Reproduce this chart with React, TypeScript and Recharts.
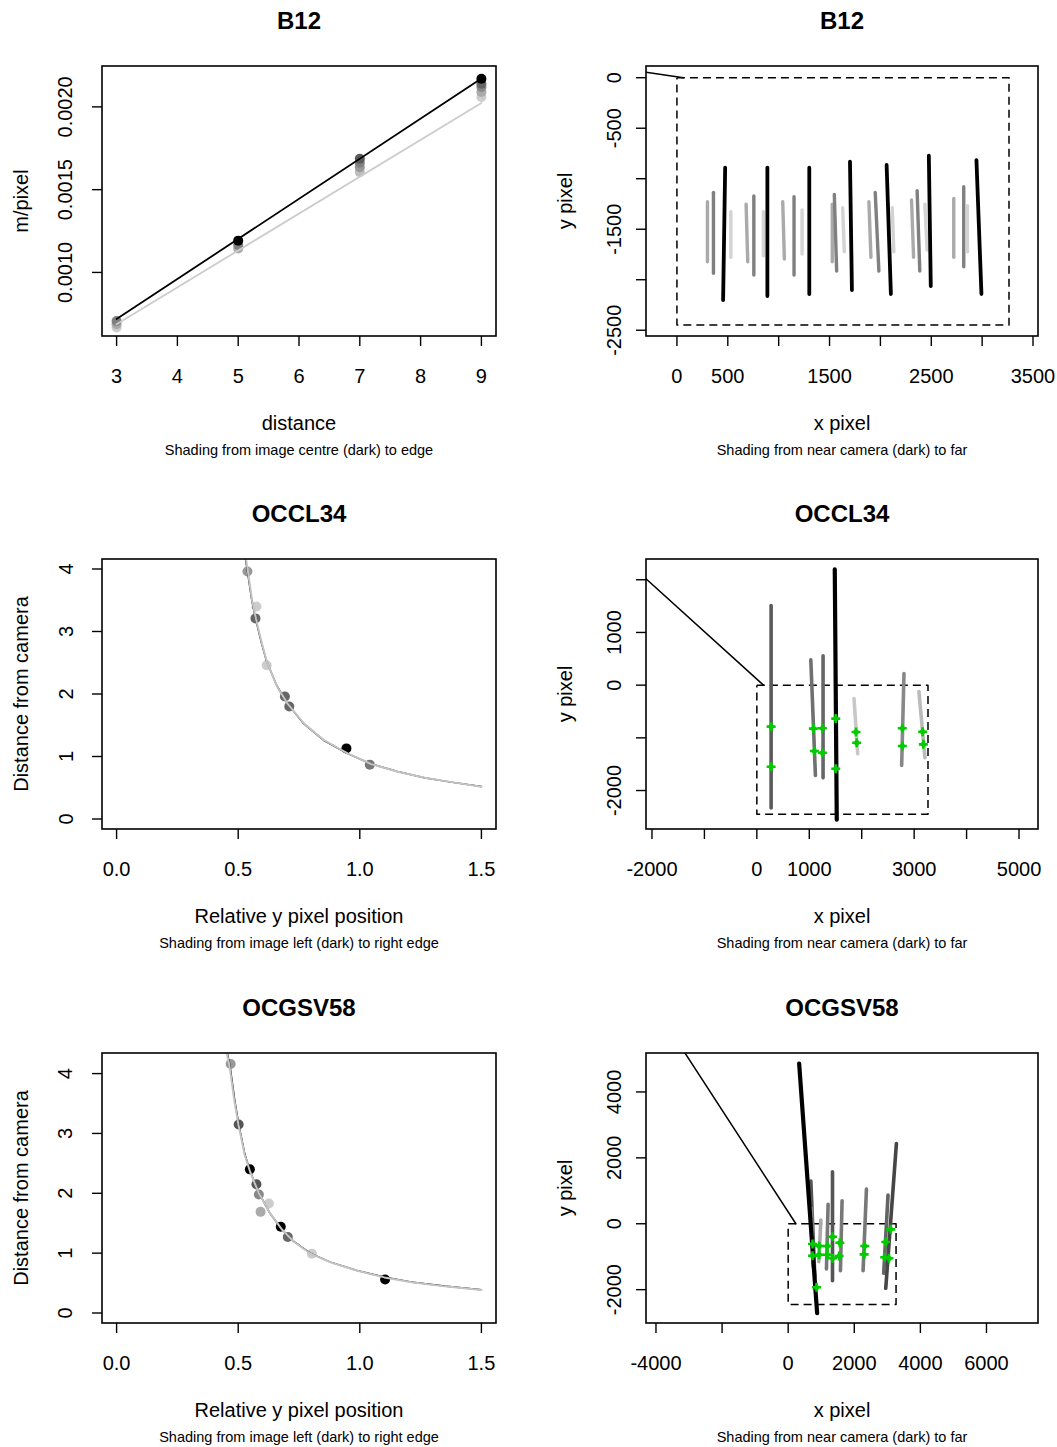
import React from 'react';
import { ScatterChart, Scatter, XAxis, YAxis } from 'recharts';

const FONT = '"Liberation Sans", Arial, Helvetica, sans-serif';

// ---------- B12 (left): m/pixel vs distance ----------
const b12Points = [
  [3, 0.000667, 204], [3, 0.000687, 170], [3, 0.000707, 128],
  [5, 0.001145, 170], [5, 0.001166, 128], [5, 0.001192, 0],
  [7, 0.001606, 190], [7, 0.001636, 153], [7, 0.001663, 128], [7, 0.001687, 90],
  [9, 0.00206, 204], [9, 0.00209, 170], [9, 0.00212, 136], [9, 0.00214, 102], [9, 0.00217, 0],
];
const b12FitCentre = [[3, 0.000718], [9, 0.002172]];
const b12FitEdge = [[3, 0.000687], [9, 0.002024]];

// ---------- B12 (right): image plane ----------
const imgW = 3264;
const imgH = 2448;
const b12Camera = [[-304, 53], [65, 0]];
const b12Segs = [
  [300, -1228, 300, -1822, 170], [359, -1135, 359, -1937, 128], [474, -891, 454, -2201, 0], [530, -1327, 530, -1778, 211],
  [680, -1251, 696, -1822, 170], [756, -1171, 756, -1953, 128], [850, -1327, 850, -1762, 211], [889, -891, 889, -2161, 0],
  [1040, -1228, 1056, -1795, 170], [1151, -1178, 1151, -1953, 128], [1230, -1310, 1230, -1746, 211], [1301, -891, 1301, -2141, 0],
  [1527, -1251, 1527, -1822, 170], [1547, -1155, 1570, -1914, 128], [1629, -1287, 1645, -1723, 211], [1701, -832, 1720, -2102, 0],
  [1887, -1228, 1907, -1778, 170], [1949, -1135, 1985, -1914, 128], [2116, -1287, 2132, -1723, 211], [2061, -864, 2103, -2141, 0],
  [2306, -1211, 2326, -1778, 170], [2361, -1119, 2387, -1914, 128], [2437, -1251, 2459, -1706, 211], [2476, -772, 2495, -2062, 0],
  [2721, -1195, 2721, -1778, 170], [2819, -1079, 2819, -1871, 128], [2856, -1267, 2856, -1723, 211], [2944, -815, 2993, -2141, 0],
];

// ---------- OCCL34 (left) ----------
const occPoints = [
  [0.538, 3.96, 153], [0.575, 3.40, 204], [0.571, 3.21, 102], [0.617, 2.46, 204],
  [0.692, 1.96, 102], [0.710, 1.80, 102], [0.945, 1.13, 0], [1.041, 0.87, 119],
];
const occCurveDark = [
  [0.530, 4.16], [0.538, 3.96], [0.555, 3.52], [0.571, 3.21], [0.596, 2.81], [0.617, 2.52], [0.658, 2.14],
  [0.700, 1.86], [0.768, 1.53], [0.851, 1.26], [0.948, 1.05], [1.044, 0.885], [1.155, 0.76], [1.265, 0.66],
  [1.375, 0.59], [1.5, 0.52],
];
const occCurveLight = [
  [0.532, 4.16], [0.540, 3.96], [0.557, 3.50], [0.573, 3.20], [0.598, 2.80], [0.619, 2.50], [0.660, 2.12],
  [0.702, 1.85], [0.770, 1.53], [0.853, 1.26], [0.950, 1.05], [1.046, 0.88], [1.157, 0.755], [1.267, 0.66],
  [1.377, 0.59], [1.5, 0.515],
];

// ---------- OCCL34 (right) ----------
const occCamera = [[-2114, 2019], [126, 0]];
const occSegs = [
  [272, 1511, 272, -2330, 90], [1029, 482, 1117, -1714, 112], [1263, 558, 1263, -1759, 102],
  [1853, -254, 1924, -1302, 200], [2806, 222, 2762, -1524, 136], [3091, -121, 3206, -1378, 187],
  [1486, 2197, 1524, -2552, 0],
];
const occMarks = [
  [272, -788], [272, -1549], [1078, -825], [1097, -1251], [1250, -819], [1250, -1283], [1505, -635],
  [1505, -1587], [1891, -889], [1904, -1092], [2774, -819], [2774, -1156], [3162, -883], [3175, -1124],
];

// ---------- OCGSV58 (left) ----------
const ocgPoints = [
  [0.469, 4.16, 153], [0.502, 3.15, 85], [0.548, 2.40, 0], [0.575, 2.15, 85], [0.585, 1.98, 136],
  [0.626, 1.83, 204], [0.592, 1.69, 170], [0.675, 1.44, 0], [0.704, 1.27, 102], [0.803, 0.99, 204], [1.104, 0.56, 0],
];
const ocgCurveDark = [
  [0.455, 4.344], [0.466, 4.14], [0.486, 3.55], [0.502, 3.16], [0.527, 2.66], [0.548, 2.38], [0.582, 2.03],
  [0.630, 1.67], [0.679, 1.40], [0.727, 1.20], [0.796, 1.00], [0.879, 0.85], [0.989, 0.71], [1.099, 0.60],
  [1.210, 0.52], [1.348, 0.45], [1.5, 0.39],
];
const ocgCurveLight = [
  [0.453, 4.344], [0.464, 4.14], [0.484, 3.55], [0.501, 3.15], [0.527, 2.64], [0.549, 2.36], [0.584, 2.01],
  [0.632, 1.66], [0.681, 1.39], [0.729, 1.19], [0.798, 0.99], [0.881, 0.845], [0.991, 0.705], [1.101, 0.595],
  [1.212, 0.515], [1.35, 0.445], [1.5, 0.385],
];

// ---------- OCGSV58 (right) ----------
const ocgCamera = [[-3142, 5212], [233, 0]];
const ocgSegs = [
  [686, 1294, 806, -1606, 85], [706, 467, 757, -1303, 136], [988, 112, 927, -1152, 170], [1208, 588, 1158, -1373, 120],
  [1341, 1576, 1341, -1727, 85], [1631, 697, 1581, -1424, 120], [2368, 1052, 2267, -1424, 120],
  [3021, 870, 2890, -1503, 100], [3275, 2436, 2952, -1958, 70], [332, 4860, 876, -2715, 0],
];
const ocgMarks = [
  [737, -615], [737, -970], [937, -676], [937, -939], [1190, -676], [1190, -939], [1341, -394], [1341, -1048],
  [1562, -576], [1541, -979], [2317, -676], [2297, -929], [2952, -555], [2921, -1018], [3051, -1048], [3103, -170], [858, -1927],
];

// ---------- ticks ----------
const b12DistTicks = [3, 4, 5, 6, 7, 8, 9];
const b12ScaleTicks = [0.001, 0.0015, 0.002];
const b12XPixTicks = [0, 500, 1000, 1500, 2000, 2500, 3000, 3500];
const b12XPixShown = [0, 500, 1500, 2500, 3500];
const b12YPixTicks = [0, -500, -1000, -1500, -2000, -2500];
const b12YPixShown = [0, -500, -1500, -2500];
const relTicks = [0, 0.5, 1, 1.5];
const distTicks = [0, 1, 2, 3, 4];
const occXPixTicks = [-2000, -1000, 0, 1000, 2000, 3000, 4000, 5000];
const occXPixShown = [-2000, 0, 1000, 3000, 5000];
const occYPixTicks = [-2000, -1000, 0, 1000, 2000];
const occYPixShown = [-2000, 0, 1000];
const ocgXPixTicks = [-4000, -2000, 0, 2000, 4000, 6000];
const ocgXPixShown = [-4000, 0, 2000, 4000, 6000];
const ocgYPixTicks = [-2000, 0, 2000, 4000];

// ---------- helpers ----------
const xy = (arr: number[][]) => arr.map((p) => ({ x: p[0], y: p[1] }));
const grey = (g: number) => `rgb(${g},${g},${g})`;
const Empty = () => <g />;
const frame = [[0, 0], [imgW, 0], [imgW, -imgH], [0, -imgH], [0, 0]];

const dotShape = (color: string) => (p: any) => <circle cx={p.cx} cy={p.cy} r={5} fill={color} />;
const markShape = (p: any) => (
  <g>
    <path d={`M${p.cx - 4.5},${p.cy}H${p.cx + 4.5}M${p.cx},${p.cy - 4.5}V${p.cy + 4.5}`} stroke="#00cc00" strokeWidth={2.6} />
    <circle cx={p.cx} cy={p.cy} r={2.6} fill="#00cc00" />
  </g>
);

function lineSeries(key: string, pts: number[][], stroke: string, width: number, dash?: string) {
  return (
    <Scatter
      key={key}
      data={xy(pts)}
      line={{ stroke, strokeWidth: width, strokeDasharray: dash, strokeLinecap: dash ? 'butt' : 'round', strokeLinejoin: 'round', fill: 'none' }}
      lineType="joint"
      shape={Empty}
      isAnimationActive={false}
      legendType="none"
    />
  );
}

function segSeries(prefix: string, segs: number[][], width: number, blackWidth: number) {
  return segs.map((s, i) =>
    lineSeries(prefix + i, [[s[0], s[1]], [s[2], s[3]]], grey(s[4]), s[4] === 0 ? blackWidth : width)
  );
}

function pointSeries(prefix: string, pts: number[][]) {
  return pts.map((p, i) => (
    <Scatter
      key={prefix + i}
      data={[{ x: p[0], y: p[1] }]}
      shape={dotShape(grey(p[2]))}
      isAnimationActive={false}
      legendType="none"
    />
  ));
}

function markSeries(key: string, pts: number[][]) {
  return <Scatter key={key} data={xy(pts)} shape={markShape} isAnimationActive={false} legendType="none" />;
}

type PanelProps = {
  L: number; T: number; R: number; B: number;
  xDomain: [number, number]; yDomain: [number, number];
  xTicks: number[]; yTicks: number[]; xShow: number[]; yShow: number[];
  xFmt: (v: number) => string; yFmt: (v: number) => string;
  yOff: number;
  children: React.ReactNode;
};

function Panel({ L, T, R, B, xDomain, yDomain, xTicks, yTicks, xShow, yShow, xFmt, yFmt, yOff, children }: PanelProps) {
  const W = R - L;
  const H = B - T;
  const yx = 70 - yOff;
  return (
    <div style={{ position: 'absolute', left: L - 70, top: T - 10 }}>
      <ScatterChart width={W + 110} height={H + 80} margin={{ top: 10, right: 40, bottom: 10, left: 10 }}>
        <XAxis
          type="number" dataKey="x" domain={xDomain} ticks={xTicks} interval={0} allowDataOverflow
          axisLine={false} tickLine={{ stroke: '#000', strokeWidth: 1.4 }} tickSize={10} height={60}
          tick={(p: any) => {
            const v = p.payload.value;
            if (!xShow.includes(v)) return <g />;
            return (
              <text x={p.x} y={H + 10 + 47} textAnchor="middle" fontFamily={FONT} fontSize={20} fill="#000">
                {xFmt(v)}
              </text>
            );
          }}
        />
        <YAxis
          type="number" dataKey="y" domain={yDomain} ticks={yTicks} interval={0} allowDataOverflow
          axisLine={false} tickLine={{ stroke: '#000', strokeWidth: 1.4 }} tickSize={10} width={60}
          tick={(p: any) => {
            const v = p.payload.value;
            if (!yShow.includes(v)) return <g />;
            return (
              <text x={yx} y={p.y} transform={`rotate(-90 ${yx} ${p.y})`} textAnchor="middle" fontFamily={FONT} fontSize={20} fill="#000">
                {yFmt(v)}
              </text>
            );
          }}
        />
        {children}
      </ScatterChart>
    </div>
  );
}

const LC = { L: 102, R: 496 };
const RC = { L: 646, R: 1038 };
const ROWS = [{ T: 66, B: 336 }, { T: 559, B: 829 }, { T: 1053, B: 1323 }];

const titles = [['B12', 'B12'], ['OCCL34', 'OCCL34'], ['OCGSV58', 'OCGSV58']];
const xLabs = [['distance', 'x pixel'], ['Relative y pixel position', 'x pixel'], ['Relative y pixel position', 'x pixel']];
const yLabs = [['m/pixel', 'y pixel'], ['Distance from camera', 'y pixel'], ['Distance from camera', 'y pixel']];
const subs = [
  ['Shading from image centre (dark) to edge', 'Shading from near camera (dark) to far'],
  ['Shading from image left (dark) to right edge', 'Shading from near camera (dark) to far'],
  ['Shading from image left (dark) to right edge', 'Shading from near camera (dark) to far'],
];

const str = (v: number) => String(v);
const fix1 = (v: number) => v.toFixed(1);
const fix4 = (v: number) => v.toFixed(4);

export default function App() {
  const cols = [LC, RC];
  return (
    <div style={{ position: 'absolute', left: 0, top: 0, width: 1057, height: 1447, background: '#fff', overflow: 'hidden' }}>
      <Panel {...LC} {...ROWS[0]} xDomain={[2.76, 9.24]} yDomain={[0.000616, 0.002247]}
        xTicks={b12DistTicks} yTicks={b12ScaleTicks} xShow={b12DistTicks} yShow={b12ScaleTicks} xFmt={str} yFmt={fix4} yOff={29.5}>
        {pointSeries('b12p', b12Points)}
        {lineSeries('b12fe', b12FitEdge, '#cccccc', 1.8)}
        {lineSeries('b12fc', b12FitCentre, '#000000', 1.8)}
      </Panel>
      <Panel {...RC} {...ROWS[0]} xDomain={[-304, 3549]} yDomain={[-2557, 116]}
        xTicks={b12XPixTicks} yTicks={b12YPixTicks} xShow={b12XPixShown} yShow={b12YPixShown} xFmt={str} yFmt={str} yOff={25}>
        {lineSeries('b12frame', frame, '#000', 1.5, '8 5')}
        {lineSeries('b12cam', b12Camera, '#000', 1.5)}
        {segSeries('b12s', b12Segs, 3.4, 3.8)}
      </Panel>

      <Panel {...LC} {...ROWS[1]} xDomain={[-0.06, 1.56]} yDomain={[-0.16, 4.16]}
        xTicks={relTicks} yTicks={distTicks} xShow={relTicks} yShow={distTicks} xFmt={fix1} yFmt={str} yOff={29.5}>
        {pointSeries('occp', occPoints)}
        {lineSeries('occcd', occCurveDark, '#000', 1.5)}
        {lineSeries('occcl', occCurveLight, '#c4c4c4', 2)}
      </Panel>
      <Panel {...RC} {...ROWS[1]} xDomain={[-2114, 5362]} yDomain={[-2730, 2394]}
        xTicks={occXPixTicks} yTicks={occYPixTicks} xShow={occXPixShown} yShow={occYPixShown} xFmt={str} yFmt={str} yOff={25}>
        {lineSeries('occframe', frame, '#000', 1.5, '8 5')}
        {lineSeries('occcam', occCamera, '#000', 1.5)}
        {segSeries('occs', occSegs, 3.6, 4.2)}
        {markSeries('occm', occMarks)}
      </Panel>

      <Panel {...LC} {...ROWS[2]} xDomain={[-0.06, 1.56]} yDomain={[-0.167, 4.344]}
        xTicks={relTicks} yTicks={distTicks} xShow={relTicks} yShow={distTicks} xFmt={fix1} yFmt={str} yOff={29.5}>
        {pointSeries('ocgp', ocgPoints)}
        {lineSeries('ocgcd', ocgCurveDark, '#000', 1.5)}
        {lineSeries('ocgcl', ocgCurveLight, '#c4c4c4', 2)}
      </Panel>
      <Panel {...RC} {...ROWS[2]} xDomain={[-4302, 7559]} yDomain={[-3012, 5182]}
        xTicks={ocgXPixTicks} yTicks={ocgYPixTicks} xShow={ocgXPixShown} yShow={ocgYPixTicks} xFmt={str} yFmt={str} yOff={25}>
        {lineSeries('ocgframe', frame, '#000', 1.5, '8 5')}
        {lineSeries('ocgcam', ocgCamera, '#000', 1.5)}
        {segSeries('ocgs', ocgSegs, 3.6, 4.2)}
        {markSeries('ocgm', ocgMarks)}
      </Panel>

      <svg width={1057} height={1447} style={{ position: 'absolute', left: 0, top: 0, pointerEvents: 'none' }}>
        {ROWS.map((row, r) =>
          cols.map((c, ci) => {
            const cx = (c.L + c.R) / 2;
            const cy = (row.T + row.B) / 2;
            const lx = c.L - 74;
            return (
              <g key={`${r}-${ci}`} fontFamily={FONT} fill="#000">
                <rect x={c.L} y={row.T} width={c.R - c.L} height={row.B - row.T} fill="none" stroke="#000" strokeWidth={1.6} />
                <text x={cx} y={row.T - 37} textAnchor="middle" fontSize={24} fontWeight="bold">{titles[r][ci]}</text>
                <text x={cx} y={row.B + 94} textAnchor="middle" fontSize={20}>{xLabs[r][ci]}</text>
                <text x={cx} y={row.B + 119} textAnchor="middle" fontSize={14.5}>{subs[r][ci]}</text>
                <text x={lx} y={cy} transform={`rotate(-90 ${lx} ${cy})`} textAnchor="middle" fontSize={20}>{yLabs[r][ci]}</text>
              </g>
            );
          })
        )}
      </svg>
    </div>
  );
}
